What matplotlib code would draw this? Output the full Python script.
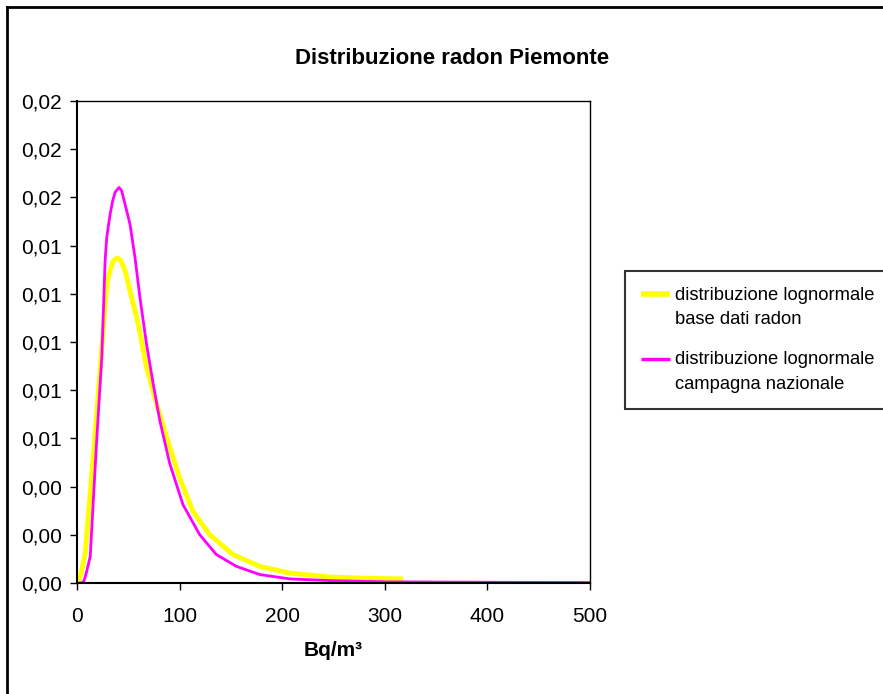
import matplotlib
matplotlib.use("Agg")
import matplotlib.pyplot as plt
from matplotlib.lines import Line2D
from matplotlib.legend_handler import HandlerLine2D
from matplotlib.ticker import FuncFormatter, MultipleLocator

plt.rcParams['font.family'] = ['Liberation Sans', 'DejaVu Sans']

# Curve values (Bq/m3, density)
base_x = [0, 1.6, 4, 8.1, 12, 16.1, 22.6, 27.4, 29.7, 32.3, 35.5, 39.4, 42.6, 46.8,
          53.2, 59.7, 67.7, 77.4, 90.3, 100, 113, 129.3, 152.1, 178.2, 207.5,
          246.6, 280, 318]
base_y = [0, 0.00007, 0.0004, 0.00124, 0.0033, 0.00538, 0.00883, 0.01159, 0.01255,
          0.01297, 0.01338, 0.01349, 0.01338, 0.01297, 0.01186, 0.01076, 0.00897,
          0.00745, 0.00566, 0.00436, 0.00297, 0.00201, 0.00118, 0.00069, 0.00041,
          0.00025, 0.0002, 0.00017]

naz_x = [0, 4, 6.5, 9, 12.9, 16, 19.4, 24.2, 27.4, 29, 32.3, 34.8, 37.1, 41, 43.5,
         46.8, 51.6, 56.5, 61.3, 67.7, 74.2, 80.6, 90.3, 103.3, 119.5, 135.8,
         155.4, 178.2, 207.5, 246.6, 300, 400, 500]
naz_y = [0, 0, 0.00005, 0.0004, 0.0011, 0.0035, 0.00607, 0.00938, 0.01338, 0.01434,
         0.01531, 0.01586, 0.01621, 0.01641, 0.01628, 0.01572, 0.0149, 0.01352,
         0.01186, 0.00993, 0.00828, 0.00676, 0.00497, 0.00325, 0.00201, 0.00118,
         0.00069, 0.00035, 0.00017, 0.0001, 0.00005, 0.00003, 0.00002]

labels = ["distribuzione lognormale\nbase dati radon",
          "distribuzione lognormale\ncampagna nazionale"]


class FirstLineHandler(HandlerLine2D):
    # put the legend line next to the first text line, as Excel does
    def create_artists(self, legend, orig_handle, xdescent, ydescent, width,
                       height, fontsize, trans):
        artists = super().create_artists(legend, orig_handle, xdescent, ydescent,
                                         width, height, fontsize, trans)
        for a in artists:
            a.set_ydata([y + 0.72 * fontsize for y in a.get_ydata()])
        return artists


fig = plt.figure(figsize=(8.83, 6.94), dpi=100)
ax = fig.add_axes([77 / 883, 1 - 583 / 694, 513 / 883, 482 / 694])

l1, = ax.plot(base_x, base_y, color='#FFFF00', lw=3.5, label=labels[0],
              solid_joinstyle='round', solid_capstyle='butt')
l2, = ax.plot(naz_x, naz_y, color='#FF00FF', lw=2.0, label=labels[1],
              solid_joinstyle='round', solid_capstyle='butt')

ax.set_xlim(0, 500)
ax.set_ylim(0, 0.02)
ax.xaxis.set_major_locator(MultipleLocator(100))
ax.yaxis.set_major_locator(MultipleLocator(0.002))
ax.yaxis.set_major_formatter(FuncFormatter(lambda v, p: f"{v:.2f}".replace('.', ',')))
ax.tick_params(direction='out', length=5, width=1, labelsize=15, colors='black')
ax.tick_params(axis='y', pad=6)
ax.tick_params(axis='x', pad=12)
for s in ax.spines.values():
    s.set_color('black')
    s.set_linewidth(1.0)
ax.spines['left'].set_linewidth(1.5)
ax.spines['bottom'].set_linewidth(1.5)

ax.set_xlabel("Bq/m³", fontsize=15, fontweight='bold', labelpad=11)
fig.text(0.512, 0.915, "Distribuzione radon Piemonte", ha='center', va='center',
         fontsize=16, fontweight='bold')

h = FirstLineHandler()
leg = ax.legend(loc='upper left', bbox_to_anchor=(625 / 883, 1 - 271 / 694),
                bbox_transform=fig.transFigure, fontsize=13.2, frameon=True,
                fancybox=False, edgecolor='black', borderaxespad=0,
                handlelength=1.6, handletextpad=0.3, labelspacing=1.25,
                borderpad=0.85, handler_map={l1: h, l2: h})
for t in leg.get_texts():
    t.set_linespacing(1.6)
leg.get_frame().set_linewidth(1.5)
leg.legend_handles[0].set_linewidth(4)
leg.legend_handles[1].set_linewidth(2.5)

# outer chart border (top and left visible)
fig.add_artist(Line2D([7 / 883, 7 / 883], [0, 1 - 7 / 694], color='black', lw=2))
fig.add_artist(Line2D([7 / 883, 1], [1 - 7 / 694, 1 - 7 / 694], color='black', lw=2))

fig.savefig("out.png", dpi=100)
